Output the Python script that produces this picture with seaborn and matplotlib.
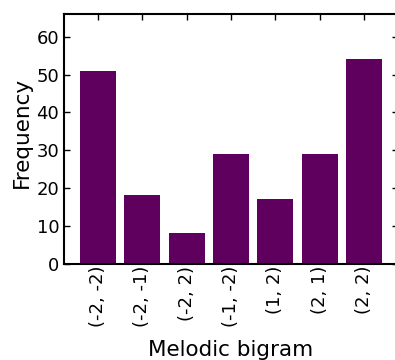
import seaborn as sns
import matplotlib.pyplot as plt

# --- data ---
bigrams = ['(-2, -2)', '(-2, -1)', '(-2, 2)', '(-1, -2)', '(1, 2)', '(2, 1)', '(2, 2)']
counts = [51, 18, 8, 29, 17, 29, 54]

sns.set_style('ticks')
plt.rcParams['font.family'] = ['DejaVu Sans']
plt.rcParams['text.color'] = 'black'
plt.rcParams['axes.labelcolor'] = 'black'
plt.rcParams['xtick.color'] = 'black'
plt.rcParams['ytick.color'] = 'black'

fig = plt.figure(figsize=(3.95, 3.6), dpi=100)
ax = fig.add_axes([0.162, 0.268, 0.8456, 0.693])

sns.barplot(x=bigrams, y=counts, color='#5f005f', saturation=1, width=0.81,
            linewidth=0, ax=ax)

ax.set_xlim(-0.767, 6.767)
ax.set_ylim(0, 66)
ax.set_yticks(range(0, 61, 10))
ax.tick_params(direction='in', length=4, width=1, top=True, right=True,
               labelsize=13)
ax.tick_params(axis='y', pad=3.5)
ax.tick_params(axis='x', labelrotation=90, pad=1.5)
for s in ax.spines.values():
    s.set_linewidth(1.5)
    s.set_edgecolor('black')
    s.set_visible(True)

ax.set_xlabel('Melodic bigram', fontsize=15.5, labelpad=9)
ax.set_ylabel('Frequency', fontsize=15.5)
ax.yaxis.set_label_coords(-0.095, 0.525)

fig.savefig('out.png', dpi=100)
